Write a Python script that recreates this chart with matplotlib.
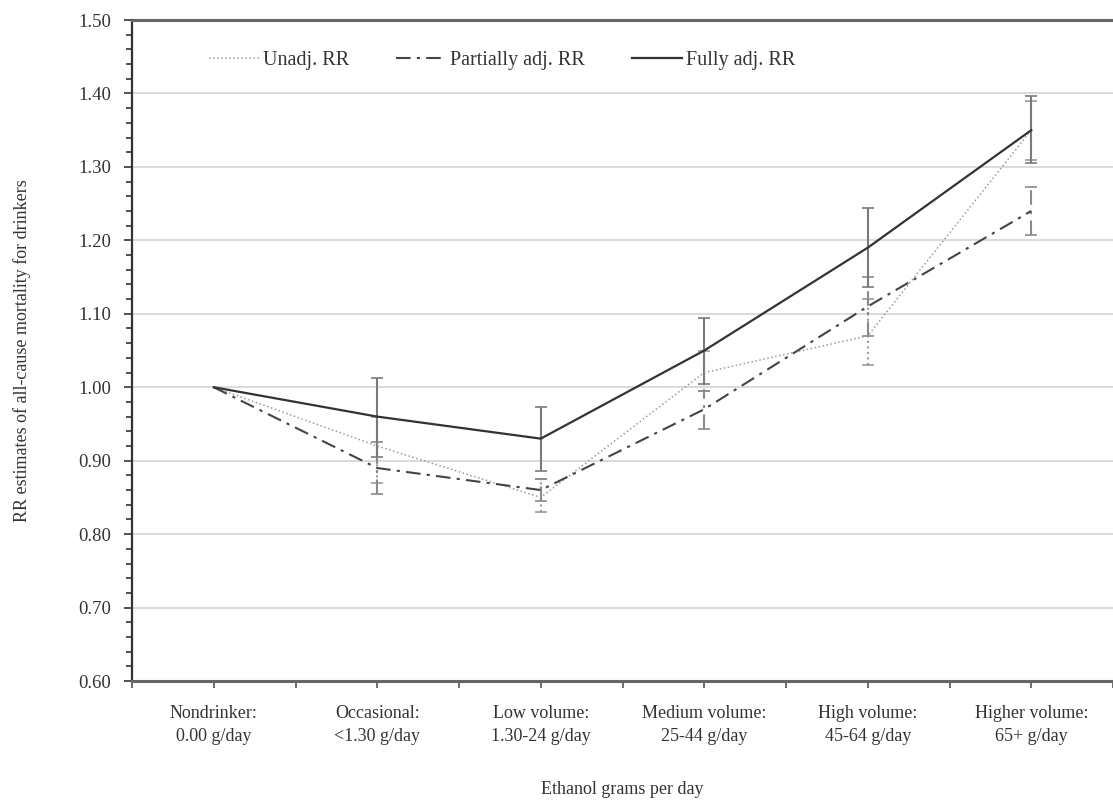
import matplotlib.pyplot as plt
import numpy as np

# categories and estimates
categories = ["Nondrinker:\n0.00 g/day", "Occasional:\n<1.30 g/day", "Low volume:\n1.30-24 g/day",
              "Medium volume:\n25-44 g/day", "High volume:\n45-64 g/day", "Higher volume:\n65+ g/day"]

unadj = [1.00, 0.92, 0.85, 1.02, 1.07, 1.35]
unadj_lo = [1.00, 0.87, 0.83, 0.995, 1.03, 1.31]
unadj_hi = [1.00, 0.96, 0.875, 1.05, 1.12, 1.39]

partial = [1.00, 0.89, 0.86, 0.97, 1.11, 1.24]
partial_lo = [1.00, 0.855, 0.845, 0.943, 1.07, 1.207]
partial_hi = [1.00, 0.925, 0.875, 0.995, 1.15, 1.272]

full = [1.00, 0.96, 0.93, 1.05, 1.19, 1.35]
full_lo = [1.00, 0.905, 0.886, 1.005, 1.136, 1.305]
full_hi = [1.00, 1.012, 0.973, 1.094, 1.244, 1.396]

plt.rcParams['font.family'] = ['Liberation Serif', 'DejaVu Serif']
plt.rcParams['font.size'] = 13

fig = plt.figure(figsize=(11.13, 8.01), dpi=100)
ax = fig.add_axes([0.1186, 0.1498, 0.8814, 0.8252])

x = np.arange(len(categories))


def draw(vals, lo, hi, color, ecolor, ls, lw, label):
    v = np.array(vals)
    err = [v - np.array(lo), np.array(hi) - v]
    mask = np.arange(len(v)) > 0
    eb = ax.errorbar(x[mask], v[mask], yerr=[err[0][mask], err[1][mask]], fmt='none',
                     ecolor=ecolor, elinewidth=1.5, capsize=4.5, capthick=1.2, zorder=2)
    for c in eb[2]:
        c.set_linestyle(ls)
    ax.plot(x, v, color=color, linestyle=ls, linewidth=lw, label=label, zorder=3)


draw(unadj, unadj_lo, unadj_hi, '#9a9a9a', '#9a9a9a', ':', 1.1, 'Unadj. RR')
draw(partial, partial_lo, partial_hi, '#444444', '#8a8a8a', (0, (7, 3, 1.5, 3)), 1.5, 'Partially adj. RR')
draw(full, full_lo, full_hi, '#333333', '#7a7a7a', '-', 1.6, 'Fully adj. RR')

ax.set_xlim(-0.5, 5.5)
ax.set_ylim(0.60, 1.50)
ax.set_yticks(np.arange(0.6, 1.501, 0.1))
ax.set_yticklabels([f"{t:.2f}" for t in np.arange(0.6, 1.501, 0.1)], fontsize=13.5)
ax.set_yticks(np.arange(0.6, 1.501, 0.02), minor=True)
ax.set_xticks(x)
ax.set_xticklabels(categories, linespacing=1.5)
ax.set_xticks(np.arange(-0.5, 5.6, 1), minor=True)

ax.grid(axis='y', color='#d4d4d4', linewidth=1.2, zorder=0)
ax.set_axisbelow(True)

ax.tick_params(axis='y', which='major', direction='out', length=6, width=1.2, color='#333333', pad=9, labelcolor='#333333')
ax.tick_params(axis='y', which='minor', direction='out', length=4, width=1.2, color='#333333')
ax.tick_params(axis='x', which='both', direction='out', length=5, width=1.2, color='#555555', pad=12, labelcolor='#333333')

ax.spines['right'].set_visible(False)
ax.spines['left'].set_color('#333333')
ax.spines['left'].set_linewidth(1.6)
ax.spines['top'].set_color('#666666')
ax.spines['top'].set_linewidth(2.2)
ax.spines['bottom'].set_color('#666666')
ax.spines['bottom'].set_linewidth(2.2)

ax.set_xlabel('Ethanol grams per day', labelpad=26, color='#333333')
ax.set_ylabel('RR estimates of all-cause mortality for drinkers', labelpad=34, color='#333333')

ax.legend(loc='upper left', bbox_to_anchor=(0.06, 0.98), ncol=3, frameon=False, fontsize=14.5,
          handlelength=2.5, handletextpad=0.2, columnspacing=2.3, labelcolor='#333333')

fig.savefig('out.png', dpi=100)
